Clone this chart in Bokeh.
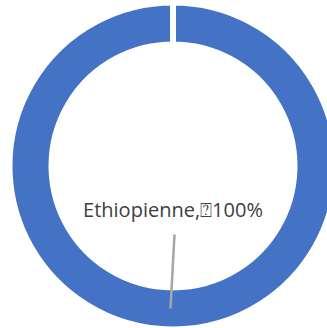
import math
from bokeh.plotting import figure
from bokeh.models import Range1d, ColumnDataSource
from bokeh.core.properties import value
from bokeh.embed import file_html
from bokeh.resources import INLINE

categories = ["Ethiopienne"]
shares = [100]
colors = ["#4472C4"]

W, H = 327, 328
p = figure(width=W, height=H, output_backend="svg", toolbar_location=None,
           x_range=Range1d(0, W), y_range=Range1d(H, 0),
           min_border=0)
p.axis.visible = False
p.grid.visible = False
p.outline_line_color = None
p.background_fill_color = "white"
p.border_fill_color = "white"

cx, cy = 172.5, 165.5
r_out, r_in = 160.5, 124.5
gap = 6

total = sum(shares)
start = math.pi / 2  # top
starts, ends, mids = [], [], []
a = start
for s in shares:
    sweep = 2 * math.pi * s / total
    starts.append(a)
    e = a + sweep - (1e-4 if s == total else 0)
    ends.append(e)
    mids.append(a + sweep / 2)
    a += sweep

src = ColumnDataSource(dict(x=[cx] * len(shares), y=[cy] * len(shares),
                            start=starts, end=ends, color=colors))
p.annular_wedge(x="x", y="y", inner_radius=r_in - gap / 2, outer_radius=r_out + gap / 2,
                start_angle="start", end_angle="end", direction="anticlock",
                fill_color="color", line_color="white", line_width=gap, source=src)

# label with leader line (mid-angle is at the bottom of the ring on screen)
labels = [f"{c},\u2370{s}%" for c, s in zip(categories, shares)]
rm = (r_in + r_out) / 2
for lab, m in zip(labels, mids):
    ex = cx - 2.5
    ey = cy + rm
    p.segment(x0=[cx + 1.5], y0=[234], x1=[ex], y1=[ey], line_color="#A6A6A6", line_width=2.5)
    p.text(x=[cx], y=[209], text=[lab], text_align="center", text_baseline="middle",
           text_font=value("Open Sans"), text_font_size="20px", text_color="#404040")

open("out.html", "w").write(file_html(p, INLINE))
